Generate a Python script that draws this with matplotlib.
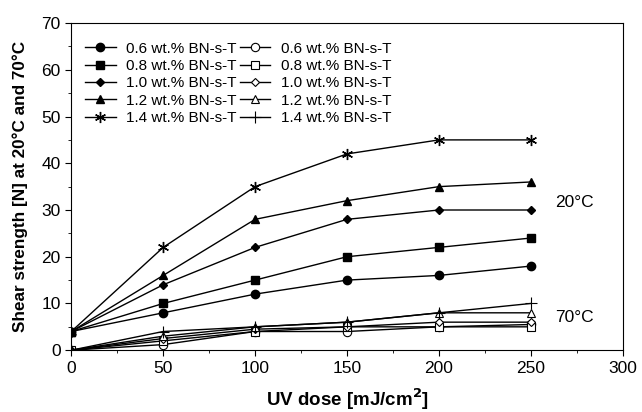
import numpy as np
import matplotlib
matplotlib.use("Agg")
import matplotlib.pyplot as plt
from matplotlib.ticker import MultipleLocator

plt.rcParams['font.family'] = ['Liberation Sans', 'DejaVu Sans']

dose = [0, 50, 100, 150, 200, 250]
labels = ["0.6 wt.% BN-s-T", "0.8 wt.% BN-s-T", "1.0 wt.% BN-s-T",
          "1.2 wt.% BN-s-T", "1.4 wt.% BN-s-T"]

# shear strength at 20 C (filled markers)
s20_06 = [4, 8, 12, 15, 16, 18]
s20_08 = [4, 10, 15, 20, 22, 24]
s20_10 = [4, 14, 22, 28, 30, 30]
s20_12 = [4, 16, 28, 32, 35, 36]
s20_14 = [4, 22, 35, 42, 45, 45]

# shear strength at 70 C (open markers)
s70_06 = [0, 1.2, 4, 4, 5, 5.5]
s70_08 = [0, 2, 4, 5, 5, 5]
s70_10 = [0, 2.5, 4.5, 5, 6, 6]
s70_12 = [0, 3, 5, 6, 8, 8]
s70_14 = [0, 4, 5, 6, 8, 10]

fig = plt.figure(figsize=(6.42, 4.12), dpi=100)
ax = fig.add_axes([0.111, 0.150, 0.859, 0.794])

markers = ['o', 's', 'D', '^', (6, 2, 0)]
sizes = [6, 5.5, 4.5, 6, 8]
s20 = [s20_06, s20_08, s20_10, s20_12, s20_14]
s70 = [s70_06, s70_08, s70_10, s70_12, s70_14]

h20 = []
for y, m, ms, lab in zip(s20, markers, sizes, labels):
    l, = ax.plot(dose, y, color='black', lw=1, marker=m, ms=ms,
                 mfc='black', mec='black', mew=1, label=lab)
    h20.append(l)

open_markers = ['o', 's', 'D', '^', '+']
h70 = []
for y, m, ms, lab in zip(s70, open_markers, sizes, labels):
    l, = ax.plot(dose, y, color='black', lw=1, marker=m, ms=ms if m != '+' else 8,
                 mfc='white', mec='black', mew=0.8, label=lab)
    h70.append(l)

ax.legend(h20 + h70, labels + labels, ncol=2, loc='upper left', frameon=False,
          fontsize=11, handlelength=2.0, handletextpad=0.7, columnspacing=0.2,
          labelspacing=0.22, bbox_to_anchor=(0.0, 0.985))

ax.text(263, 31.5, "20°C", fontsize=12.5, va='center')
ax.text(263, 7, "70°C", fontsize=12.5, va='center')

ax.set_xlim(0, 300)
ax.set_ylim(0, 70)
ax.xaxis.set_major_locator(MultipleLocator(50))
ax.xaxis.set_minor_locator(MultipleLocator(25))
ax.yaxis.set_major_locator(MultipleLocator(10))
ax.yaxis.set_minor_locator(MultipleLocator(5))
ax.tick_params(which='both', direction='out', top=False, right=False, labelsize=12.5)
ax.tick_params(which='major', length=4)
ax.tick_params(which='minor', length=2.5)

ax.set_xlabel("UV dose [mJ/cm$^\\mathbf{2}$]", fontsize=13.5, fontweight='bold',
              labelpad=8)
ax.set_ylabel("Shear strength [N] at 20°C and 70°C", fontsize=12.3, fontweight='bold',
              labelpad=10)

fig.savefig("out.png", dpi=100)
